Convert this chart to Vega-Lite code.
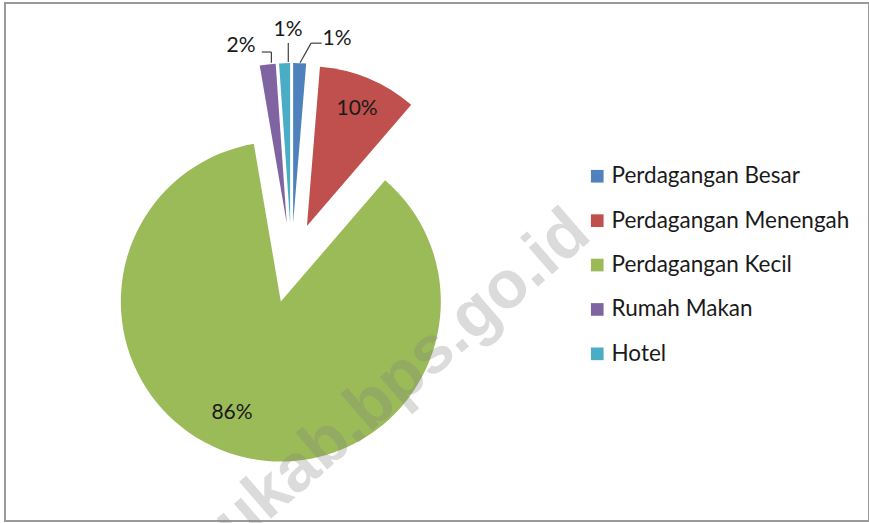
{
  "$schema": "https://vega.github.io/schema/vega-lite/v6.json",
  "width": 864,
  "height": 518,
  "autosize": {"type": "none"},
  "padding": {"left": 5, "top": 3, "right": 0, "bottom": 2},
  "background": "white",
  "config": {"view": {"stroke": "#9a9a9a", "strokeWidth": 2}, "font": "Lato"},
  "data": {"values": [
    {"category": "Perdagangan Besar", "value": 1.3},
    {"category": "Perdagangan Menengah", "value": 10.0},
    {"category": "Perdagangan Kecil", "value": 86.0},
    {"category": "Rumah Makan", "value": 1.6},
    {"category": "Hotel", "value": 1.1}
  ]},
  "transform": [
    {"joinaggregate": [{"op": "sum", "field": "value", "as": "total"}]},
    {"window": [{"op": "sum", "field": "value", "as": "cum"}], "frame": [null, 0]},
    {"calculate": "(datum.cum - datum.value) / datum.total * 100", "as": "start"},
    {"calculate": "datum.cum / datum.total * 100", "as": "end"},
    {"calculate": "(datum.start + datum.end) / 100 * PI", "as": "mid"},
    {"calculate": "0.25 * sin(datum.mid)", "as": "ex"},
    {"calculate": "0.25 * cos(datum.mid)", "as": "ey"},
    {"calculate": "datum.ex + 0.78 * sin(datum.mid)", "as": "lx"},
    {"calculate": "datum.ey + 0.78 * cos(datum.mid)", "as": "ly"},
    {"calculate": "datum.ex + sin(datum.mid)", "as": "ax"},
    {"calculate": "datum.ey + cos(datum.mid)", "as": "ay"},
    {"calculate": "format(datum.value, '.0f') + '%'", "as": "label"}
  ],
  "layer": [
    {
      "mark": {"type": "arc", "radius": 160},
      "encoding": {
        "x": {"field": "ex", "type": "quantitative", "scale": {"domain": [-1, 1], "range": [126.5, 446.5]}, "axis": null},
        "y": {"field": "ey", "type": "quantitative", "scale": {"domain": [-1, 1], "range": [420, 100]}, "axis": null},
        "theta": {"field": "start", "type": "quantitative", "stack": null, "scale": {"domain": [0, 100], "range": [0, 6.283185307179586]}},
        "theta2": {"field": "end"},
        "color": {
          "field": "category", "type": "nominal",
          "scale": {
            "domain": ["Perdagangan Besar", "Perdagangan Menengah", "Perdagangan Kecil", "Rumah Makan", "Hotel"],
            "range": ["#4F81BD", "#C0504D", "#9BBB59", "#8064A2", "#4BACC6"]
          },
          "legend": {
            "title": null, "orient": "none", "legendX": 581, "legendY": 162,
            "symbolType": "square", "symbolSize": 160, "symbolStrokeWidth": 0,
            "labelFont": "Lato", "labelFontSize": 22.5, "labelColor": "#1a1a1a",
            "rowPadding": 21.4, "labelOffset": 3, "padding": 0, "labelLimit": 400
          }
        }
      }
    },
    {
      "transform": [{"filter": "datum.category === 'Perdagangan Menengah'"}],
      "mark": {"type": "text", "fontSize": 21, "font": "Lato", "color": "#1a1a1a", "dx": 2, "dy": -2},
      "encoding": {
        "x": {"field": "lx", "type": "quantitative", "scale": {"domain": [-1, 1], "range": [126.5, 446.5]}, "axis": null},
        "y": {"field": "ly", "type": "quantitative", "scale": {"domain": [-1, 1], "range": [420, 100]}, "axis": null},
        "text": {"field": "label"}
      }
    },
    {
      "transform": [{"filter": "datum.category === 'Perdagangan Kecil'"}],
      "mark": {"type": "text", "fontSize": 21, "font": "Lato", "color": "#1a1a1a", "dx": -15.5, "dy": -9},
      "encoding": {
        "x": {"field": "lx", "type": "quantitative", "scale": {"domain": [-1, 1], "range": [126.5, 446.5]}, "axis": null},
        "y": {"field": "ly", "type": "quantitative", "scale": {"domain": [-1, 1], "range": [420, 100]}, "axis": null},
        "text": {"field": "label"}
      }
    },
    {
      "transform": [{"filter": "datum.category === 'Rumah Makan'"}],
      "mark": {"type": "text", "fontSize": 21, "font": "Lato", "color": "#1a1a1a", "dx": -26.6, "dy": -18.4},
      "encoding": {
        "x": {"field": "ax", "type": "quantitative", "scale": {"domain": [-1, 1], "range": [126.5, 446.5]}, "axis": null},
        "y": {"field": "ay", "type": "quantitative", "scale": {"domain": [-1, 1], "range": [420, 100]}, "axis": null},
        "text": {"field": "label"}
      }
    },
    {
      "transform": [{"filter": "datum.category === 'Rumah Makan'"}],
      "mark": {"type": "rule", "color": "#404040", "strokeWidth": 1.2, "xOffset": 3.7, "yOffset": -1.7, "x2Offset": 3.7, "y2Offset": -12.4},
      "encoding": {
        "x": {"field": "ax", "type": "quantitative", "scale": {"domain": [-1, 1], "range": [126.5, 446.5]}, "axis": null},
        "y": {"field": "ay", "type": "quantitative", "scale": {"domain": [-1, 1], "range": [420, 100]}, "axis": null},
        "x2": {"field": "ax"},
        "y2": {"field": "ay"}
      }
    },
    {
      "transform": [{"filter": "datum.category === 'Rumah Makan'"}],
      "mark": {"type": "rule", "color": "#404040", "strokeWidth": 1.2, "xOffset": 3.7, "yOffset": -12.4, "x2Offset": -5.9, "y2Offset": -12.4},
      "encoding": {
        "x": {"field": "ax", "type": "quantitative", "scale": {"domain": [-1, 1], "range": [126.5, 446.5]}, "axis": null},
        "y": {"field": "ay", "type": "quantitative", "scale": {"domain": [-1, 1], "range": [420, 100]}, "axis": null},
        "x2": {"field": "ax"},
        "y2": {"field": "ay"}
      }
    },
    {
      "transform": [{"filter": "datum.category === 'Hotel'"}],
      "mark": {"type": "text", "fontSize": 21, "font": "Lato", "color": "#1a1a1a", "dx": 3.4, "dy": -32.8},
      "encoding": {
        "x": {"field": "ax", "type": "quantitative", "scale": {"domain": [-1, 1], "range": [126.5, 446.5]}, "axis": null},
        "y": {"field": "ay", "type": "quantitative", "scale": {"domain": [-1, 1], "range": [420, 100]}, "axis": null},
        "text": {"field": "label"}
      }
    },
    {
      "transform": [{"filter": "datum.category === 'Hotel'"}],
      "mark": {"type": "rule", "color": "#404040", "strokeWidth": 1.2, "xOffset": 3.7, "yOffset": -1, "x2Offset": 3.7, "y2Offset": -20},
      "encoding": {
        "x": {"field": "ax", "type": "quantitative", "scale": {"domain": [-1, 1], "range": [126.5, 446.5]}, "axis": null},
        "y": {"field": "ay", "type": "quantitative", "scale": {"domain": [-1, 1], "range": [420, 100]}, "axis": null},
        "x2": {"field": "ax"},
        "y2": {"field": "ay"}
      }
    },
    {
      "transform": [{"filter": "datum.category === 'Perdagangan Besar'"}],
      "mark": {"type": "text", "fontSize": 21, "font": "Lato", "color": "#1a1a1a", "dx": 37.4, "dy": -24.3},
      "encoding": {
        "x": {"field": "ax", "type": "quantitative", "scale": {"domain": [-1, 1], "range": [126.5, 446.5]}, "axis": null},
        "y": {"field": "ay", "type": "quantitative", "scale": {"domain": [-1, 1], "range": [420, 100]}, "axis": null},
        "text": {"field": "label"}
      }
    },
    {
      "transform": [{"filter": "datum.category === 'Perdagangan Besar'"}],
      "mark": {"type": "rule", "color": "#404040", "strokeWidth": 1.2, "xOffset": 0.4, "yOffset": -0.4, "x2Offset": 11.4, "y2Offset": -20},
      "encoding": {
        "x": {"field": "ax", "type": "quantitative", "scale": {"domain": [-1, 1], "range": [126.5, 446.5]}, "axis": null},
        "y": {"field": "ay", "type": "quantitative", "scale": {"domain": [-1, 1], "range": [420, 100]}, "axis": null},
        "x2": {"field": "ax"},
        "y2": {"field": "ay"}
      }
    },
    {
      "transform": [{"filter": "datum.category === 'Perdagangan Besar'"}],
      "mark": {"type": "rule", "color": "#404040", "strokeWidth": 1.2, "xOffset": 11.4, "yOffset": -20, "x2Offset": 22, "y2Offset": -20},
      "encoding": {
        "x": {"field": "ax", "type": "quantitative", "scale": {"domain": [-1, 1], "range": [126.5, 446.5]}, "axis": null},
        "y": {"field": "ay", "type": "quantitative", "scale": {"domain": [-1, 1], "range": [420, 100]}, "axis": null},
        "x2": {"field": "ax"},
        "y2": {"field": "ay"}
      }
    },
    {
      "data": {"values": [{"mark_text": "ukab.bps.go.id"}]},
      "mark": {"type": "text", "angle": 319, "fontSize": 67, "font": "Liberation Sans", "fontWeight": "bold", "color": "#808080", "opacity": 0.28},
      "encoding": {
        "x": {"datum": 0.69, "type": "quantitative", "scale": {"domain": [-1, 1], "range": [126.5, 446.5]}, "axis": null},
        "y": {"datum": -0.72, "type": "quantitative", "scale": {"domain": [-1, 1], "range": [420, 100]}, "axis": null},
        "text": {"field": "mark_text"}
      }
    }
  ]
}
